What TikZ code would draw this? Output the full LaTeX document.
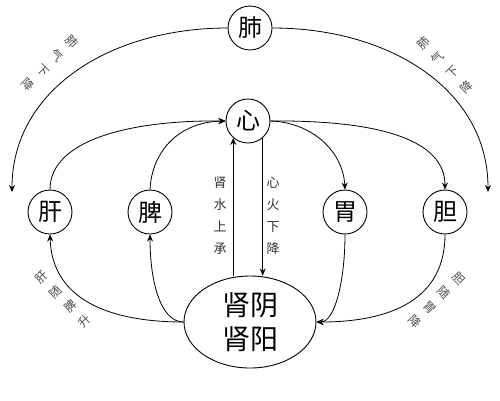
\documentclass[tikz,border=0pt]{standalone}
\usepackage{fontspec}
\setmainfont{Noto Sans CJK SC}
\usetikzlibrary{arrows.meta,shapes.geometric,calc}
\begin{document}
\begin{tikzpicture}[x=1pt,y=-1pt,
  organ/.style={circle,draw,line width=0.9pt,minimum size=44pt,inner sep=0pt,font=\fontsize{24}{24}\selectfont},
  link/.style={line width=0.8pt,-{Stealth[length=7pt,width=6pt]}},
  lab/.style={font=\fontsize{12}{20.5}\selectfont,align=center,text=black!70,inner sep=0pt},
  vlab/.style={font=\fontsize{13}{22}\selectfont,align=center,text=black!80,inner sep=0pt}]
\useasboundingbox (0,0) rectangle (500,400);
\node[organ] (lung) at (250,28) {肺};
\node[organ] (heart) at (248,121) {心};
\node[organ] (liver) at (50,212) {肝};
\node[organ] (spleen) at (150,212) {脾};
\node[organ] (stomach) at (345,212) {胃};
\node[organ] (gall) at (445,212) {胆};
\node[ellipse,draw,line width=0.9pt,minimum width=132pt,minimum height=92pt,inner sep=0pt,
  font=\fontsize{28}{34}\selectfont,align=center] (kidney) at (250,322) {肾阴\\肾阳};
% lung descending arcs
\coordinate (lt) at (12,192);
\coordinate (rt) at (488,192);
\draw[link] (lung.west) .. controls (110,28) and (12,90) .. (lt);
\draw[link] (lung.east) .. controls (390,28) and (488,90) .. (rt);
% to heart
\draw[link] (liver.north) .. controls (50,140) and (130,120) .. (heart.west);
\draw[link] (spleen.north) .. controls (152,150) and (180,122) .. (heart.west);
% from heart
\draw[link] (heart.east) .. controls (310,122) and (343,150) .. (stomach.north);
\draw[link] (heart.east) .. controls (380,120) and (445,140) .. (gall.north);
% kidney to liver/spleen
\draw[link] (kidney.west) .. controls (110,322) and (52,300) .. (liver.south);
\draw[link] (kidney.west) .. controls (160,322) and (150,280) .. (spleen.south);
% stomach/gall to kidney
\draw[link] (stomach.south) .. controls (345,280) and (335,322) .. (kidney.east);
\draw[link] (gall.south) .. controls (445,300) and (390,322) .. (kidney.east);
% vertical
\draw[link] (kidney.north -| heart.-131) -- (heart.-131);
\draw[link] (heart.-49) -- (kidney.north -| heart.-49);
\node[vlab] (v1) at (220,216) {肾\\水\\上\\承};
\node[vlab] (v2) at (273,216) {心\\火\\下\\降};
% diagonal labels
\node[lab,rotate=-45] (l1) at (50,63) {肺\\气\\下\\降};
\node[lab,rotate=45] (l2) at (445,65) {肺\\气\\下\\降};
\node[lab,rotate=45] (l3) at (63,299) {肝\\随\\脾\\升};
\node[lab,rotate=-45] (l4) at (437,300) {胆\\随\\胃\\降};
\end{tikzpicture}
\end{document}
